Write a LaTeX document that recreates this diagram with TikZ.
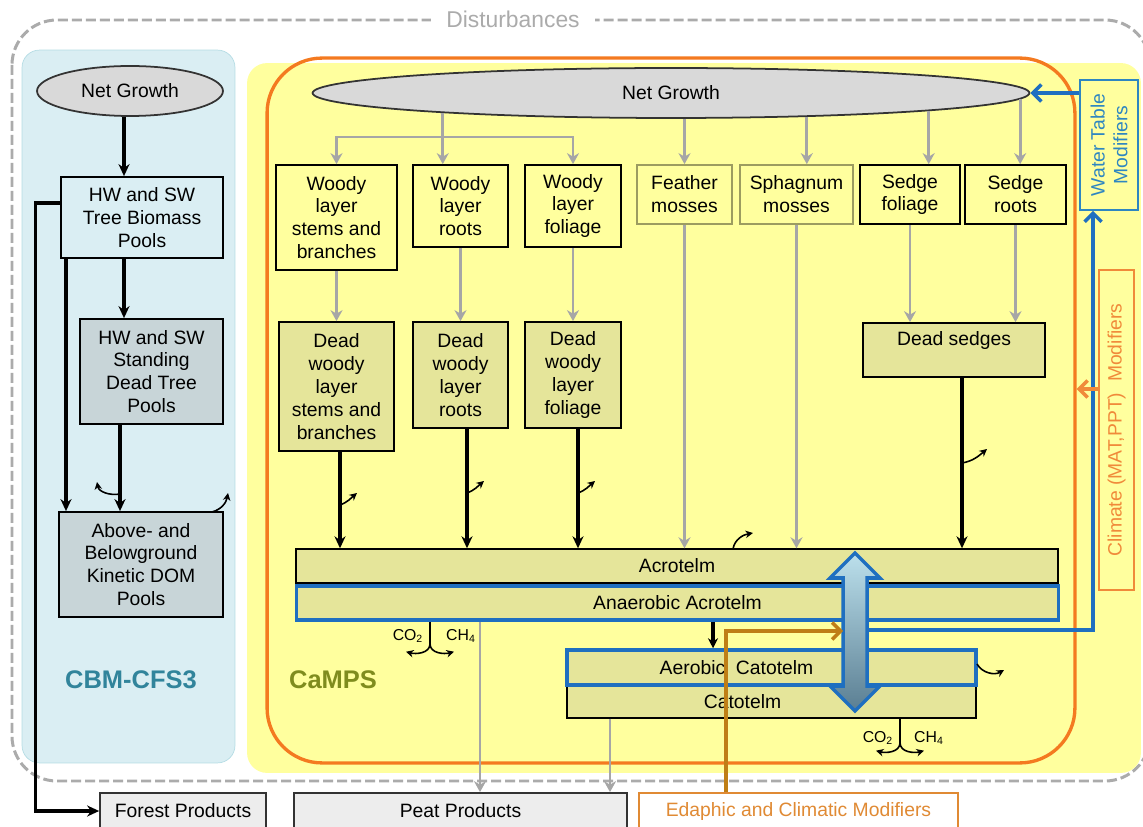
\documentclass[tikz,border=0pt]{standalone}
\usepackage{fontspec}
\setmainfont{Liberation Sans}
\usetikzlibrary{shapes.geometric, arrows, arrows.meta}
\definecolor{cbmfill}{HTML}{DAEEF3}
\definecolor{cbmline}{HTML}{B4DCE4}
\definecolor{cbmtext}{HTML}{31849B}
\definecolor{campsfill}{HTML}{FFFF9E}
\definecolor{campstext}{HTML}{7F8C1E}
\definecolor{frameorange}{HTML}{F47A20}
\definecolor{poolfill}{HTML}{E5E59A}
\definecolor{deadtree}{HTML}{C8D5D8}
\definecolor{layerblue}{HTML}{1F6FC0}
\definecolor{flowgray}{HTML}{A6A6A6}
\definecolor{mossline}{HTML}{9C9C60}
\definecolor{edaphic}{HTML}{BF7E16}
\definecolor{edaphictext}{HTML}{E08A34}
\definecolor{watertext}{HTML}{2E86C1}
\definecolor{climatetext}{HTML}{F08A3A}
\definecolor{productfill}{HTML}{EDEDED}
\definecolor{netgrowth}{HTML}{D9D9D9}
\definecolor{disturb}{HTML}{ABABAB}
\definecolor{waterTop}{HTML}{BCE0EC}
\definecolor{waterBottom}{HTML}{5A7E92}
\tikzstyle{pool} = [rectangle, draw=black, line width=1pt, align=center, inner sep=1pt]
\tikzstyle{growth} = [ellipse, draw=black!80, line width=1pt, fill=netgrowth]
\tikzstyle{live} = [pool, fill=campsfill]
\tikzstyle{moss} = [live, draw=mossline]
\tikzstyle{dead} = [pool, fill=poolfill]
\tikzstyle{layer} = [pool, fill=poolfill, line width=0.8pt, minimum width=15.24cm, minimum height=0.68cm]
\tikzstyle{blueline} = [draw=layerblue, line width=2pt]
\tikzstyle{product} = [rectangle, draw=black!80, line width=1pt, fill=productfill, minimum height=0.72cm]
\tikzstyle{modifier} = [rectangle, rotate=90, align=center, line width=0.9pt]
\tikzstyle{arrow} = [line width=1.8pt, -{Stealth[length=0.24cm, width=0.22cm]}]
\tikzstyle{grayarrow} = [line width=1.6pt, draw=flowgray, -{Stealth[length=0.22cm, width=0.24cm]}]
\tikzstyle{decay} = [line width=0.9pt, -{Stealth[length=0.15cm, width=0.15cm]}]
\tikzstyle{barb} = [line width=2pt, -{Straight Barb[length=0.17cm, width=0.34cm]}]
\begin{document}
\begin{tikzpicture}[x=0.02cm, y=-0.02cm, every node/.style={font=\fontsize{11}{13}\selectfont}]
    \useasboundingbox (0,0) rectangle (1143,827);
    \clip (0,0) rectangle (1143,827);
    \draw [draw=disturb, line width=1.7pt, dash pattern=on 0.2cm off 0.08cm, rounded corners=0.9cm] (12,20) rectangle (1150,781);
    \node (dist) [fill=white, text=disturb, font=\fontsize{13}{15}\selectfont, inner xsep=0.3cm, inner ysep=2pt] at (513,19) {Disturbances};

    \node (cbm) [rectangle, rounded corners=0.35cm, fill=cbmfill, draw=cbmline, minimum width=4.26cm, minimum height=14.26cm] at (128.5,406.5) {};
    \node (camps) [rectangle, rounded corners=0.4cm, fill=campsfill, minimum width=17.88cm, minimum height=14.2cm] at (694,418) {};
    \node (campsFrame) [rectangle, rounded corners=1.1cm, draw=frameorange, line width=1.9pt, minimum width=16.16cm, minimum height=14.1cm] at (671,410.5) {};
    \node (cbmLabel) [text=cbmtext, font=\fontsize{14.5}{16}\selectfont\bfseries] at (131,680) {CBM-CFS3};
    \node (campsLabel) [text=campstext, font=\fontsize{14.5}{16}\selectfont\bfseries] at (333,680) {CaMPS};

    \node (growthL) [growth, minimum width=3.72cm, minimum height=1cm] at (130,91) {Net Growth};
    \node (biomass) [pool, fill=cbmfill, minimum width=3.24cm, minimum height=1.62cm] at (142,217.5) {HW and SW\\Tree Biomass\\Pools};
    \node (standing) [pool, fill=deadtree, minimum width=2.86cm, minimum height=2.1cm] at (151.5,371.5) {HW and SW\\Standing\\Dead Tree\\Pools};
    \node (dom) [pool, fill=deadtree, minimum width=3.28cm, minimum height=2.1cm] at (141,564.5) {Above- and\\Belowground\\Kinetic DOM\\Pools};

    \node (growthR) [growth, minimum width=14.34cm, minimum height=1cm] at (671,93) {Net Growth};
    \node (woodyStem) [live, minimum width=2.42cm, minimum height=2.1cm] at (336.5,217.5) {Woody\\layer\\stems and\\branches};
    \node (woodyRoot) [live, minimum width=1.9cm, minimum height=1.64cm] at (460.5,206) {Woody\\layer\\roots};
    \node (woodyFol) [live, minimum width=1.92cm, minimum height=1.64cm] at (573,206) {Woody\\layer\\foliage};
    \node (feather) [moss, minimum width=1.9cm, minimum height=1.18cm] at (684.5,194.5) {Feather\\mosses};
    \node (sphagnum) [moss, minimum width=2.26cm, minimum height=1.18cm] at (796.5,194.5) {Sphagnum\\mosses};
    \node (sedgeFol) [live, minimum width=2cm, minimum height=1.18cm] at (910,194.5) {Sedge\\foliage};
    \node (sedgeRoot) [live, minimum width=2.02cm, minimum height=1.18cm] at (1015.5,194.5) {Sedge\\roots};

    \node (deadStem) [dead, minimum width=2.3cm, minimum height=2.58cm] at (336.5,386.5) {Dead\\woody\\layer\\stems and\\branches};
    \node (deadRoot) [dead, minimum width=1.9cm, minimum height=2.12cm] at (460.5,375) {Dead\\woody\\layer\\roots};
    \node (deadFol) [dead, minimum width=1.92cm, minimum height=2.12cm] at (573,375) {Dead\\woody\\layer\\foliage};
    \node (deadSedge) [dead, minimum width=3.64cm, minimum height=1.08cm] at (954,350) {};
    \node (deadSedgeText) at ([yshift=0.18cm]deadSedge.center) {Dead sedges};

    \node (acro) [layer] at (677,566) {Acrotelm};
    \node (anaer) [layer, blueline] at (677.5,603) {Anaerobic Acrotelm};
    \node (cat) [layer, minimum width=8.18cm, minimum height=0.66cm] at (771.5,701.5) {};
    \node (aerCat) [layer, blueline, minimum width=8.18cm, minimum height=0.7cm] at (771.5,667.5) {};
    \node (aerCatText) at ([xshift=-0.7cm]aerCat.center) {Aerobic\ \ Catotelm};
    \node (catText) at ([xshift=-0.58cm]cat.center) {Catotelm};

    \node (forest) [product, minimum width=3.32cm] at (183,811) {Forest Products};
    \node (peat) [product, minimum width=6.66cm] at (460.5,811) {Peat Products};
    \node (edaphicBox) [product, fill=white, draw=edaphictext, text=edaphictext, minimum width=6.38cm] at (798.5,811) {Edaphic and Climatic Modifiers};
    \node (water) [modifier, draw=watertext, text=watertext, minimum width=2.6cm, minimum height=1.16cm] at (1109,145) {Water Table\\Modifiers};
    \node (climate) [modifier, draw=climatetext, text=climatetext, minimum width=6.4cm, minimum height=0.7cm] at (1116.5,430) {Climate (MAT,PPT)\ \ Modifiers};

    \draw [arrow] (growthL.south -| 124,0) -- (124,0 |- biomass.north);
    \draw [arrow] (biomass.south -| 124,0) -- (124,0 |- standing.north);
    \draw [arrow] (standing.south -| 120,0) -- (120,0 |- dom.north);
    \draw [arrow] (biomass.south -| 66,0) -- (66,0 |- dom.north);
    \draw [arrow] ([yshift=0.29cm]biomass.west) -- ++(-25,0) |- (forest.west);

    \coordinate (split) at (woodyRoot.north |- 0,137);
    \draw [grayarrow] (growthR.185.5) -- (growthR.185.5 |- woodyRoot.north);
    \draw [grayarrow] (split) -| (woodyStem.north);
    \draw [grayarrow] (split) -| (woodyFol.north);
    \draw [grayarrow] (feather.north |- growthR.south) -- (feather.north);
    \draw [grayarrow] (growthR.-10.5) -- (growthR.-10.5 |- sphagnum.north);
    \draw [grayarrow] (growthR.-4.45) -- (growthR.-4.45 |- sedgeFol.north);
    \draw [grayarrow] (growthR.-1.25) -- (growthR.-1.25 |- sedgeRoot.north);
    \draw [grayarrow] (woodyStem) -- (deadStem);
    \draw [grayarrow] (woodyRoot) -- (deadRoot);
    \draw [grayarrow] (woodyFol) -- (deadFol);
    \draw [grayarrow] (sedgeFol.south) -- (sedgeFol.south |- deadSedge.north);
    \draw [grayarrow] (sedgeRoot.south) -- (sedgeRoot.south |- deadSedge.north);
    \draw [grayarrow] (feather.south) -- (feather.south |- acro.north);
    \draw [grayarrow] (sphagnum.south) -- (sphagnum.south |- acro.north);
    \draw [grayarrow] (480,0 |- anaer.south) -- (480,0 |- peat.north);
    \draw [grayarrow] (610,0 |- cat.south) -- ++(0,4) -- (610,0 |- peat.north);

    \draw [arrow] (deadStem.south -| 340,0) -- (340,0 |- acro.north);
    \draw [arrow] (deadRoot.south -| 467,0) -- (467,0 |- acro.north);
    \draw [arrow] (deadFol.south -| 578,0) -- (578,0 |- acro.north);
    \draw [arrow] (deadSedge.south -| 962,0) -- (962,0 |- acro.north);
    \draw [line width=1.8pt, -{Stealth[length=0.2cm, width=0.2cm]}] (713,0 |- anaer.south) -- (713,0 |- aerCat.north);

    \coordinate (relStanding) at (120,494);
    \coordinate (relDom) at (212,512);
    \coordinate (relStem) at (340,505);
    \coordinate (relRoot) at (467,493);
    \coordinate (relFol) at (578,493);
    \coordinate (relSedge) at (962,463);
    \coordinate (relAcro) at (733,549);
    \coordinate (relAerCat) at (977,664);
    \draw [decay] (relStanding) to[out=190, in=-80] ++(-23,-12);
    \draw [decay] (relDom) to[out=15, in=-100] ++(16,-19);
    \foreach \rel in {relStem, relRoot, relFol}
        \draw [decay] (\rel) to[out=20, in=-140] ++(17,-12);
    \draw [decay] (relSedge) to[out=10, in=-140] ++(25,-14);
    \draw [decay] (relAcro) to[out=80, in=190] ++(20,-16);
    \draw [decay] (relAerCat) to[out=-60, in=210] ++(27,6);

    \draw [line width=0.9pt] (430,0 |- anaer.south) -- ++(0,22) coordinate (gasA);
    \draw [decay] (gasA) to[out=-90, in=-15] ++(-24,8);
    \draw [decay] (gasA) to[out=-90, in=195] ++(24,8);
    \node (co2A) [font=\fontsize{9}{10}\selectfont] at (408,636) {CO\textsubscript{2}};
    \node (ch4A) [font=\fontsize{9}{10}\selectfont] at (461,636) {CH\textsubscript{4}};
    \draw [line width=0.9pt] (900,0 |- cat.south) -- ++(0,24) coordinate (gasB);
    \draw [decay] (gasB) to[out=-90, in=-15] ++(-24,8);
    \draw [decay] (gasB) to[out=-90, in=195] ++(24,8);
    \node (co2B) [font=\fontsize{9}{10}\selectfont] at (878,738) {CO\textsubscript{2}};
    \node (ch4B) [font=\fontsize{9}{10}\selectfont] at (929,738) {CH\textsubscript{4}};

    \draw [draw=layerblue, line width=2pt, top color=waterTop, bottom color=waterBottom, line join=miter]
        (855,553) -- (830,578) -- (843,578) -- (843,686) -- (830,686) -- (855,711)
        -- (880,686) -- (867,686) -- (867,578) -- (880,578) -- cycle;
    \coordinate (shaftL) at (843,631);
    \coordinate (shaftR) at (867,630);
    \draw [barb, draw=edaphic] (edaphicBox.north -| 726,0) |- (shaftL);
    \draw [barb, draw=layerblue] (shaftR) -| (1093,0 |- water.west);
    \draw [barb, draw=layerblue] (water.north |- growthR.east) -- (growthR.east);
    \draw [barb, draw=climatetext] (climate.north |- 0,389) -- (campsFrame.east |- 0,389);
\end{tikzpicture}
\end{document}
